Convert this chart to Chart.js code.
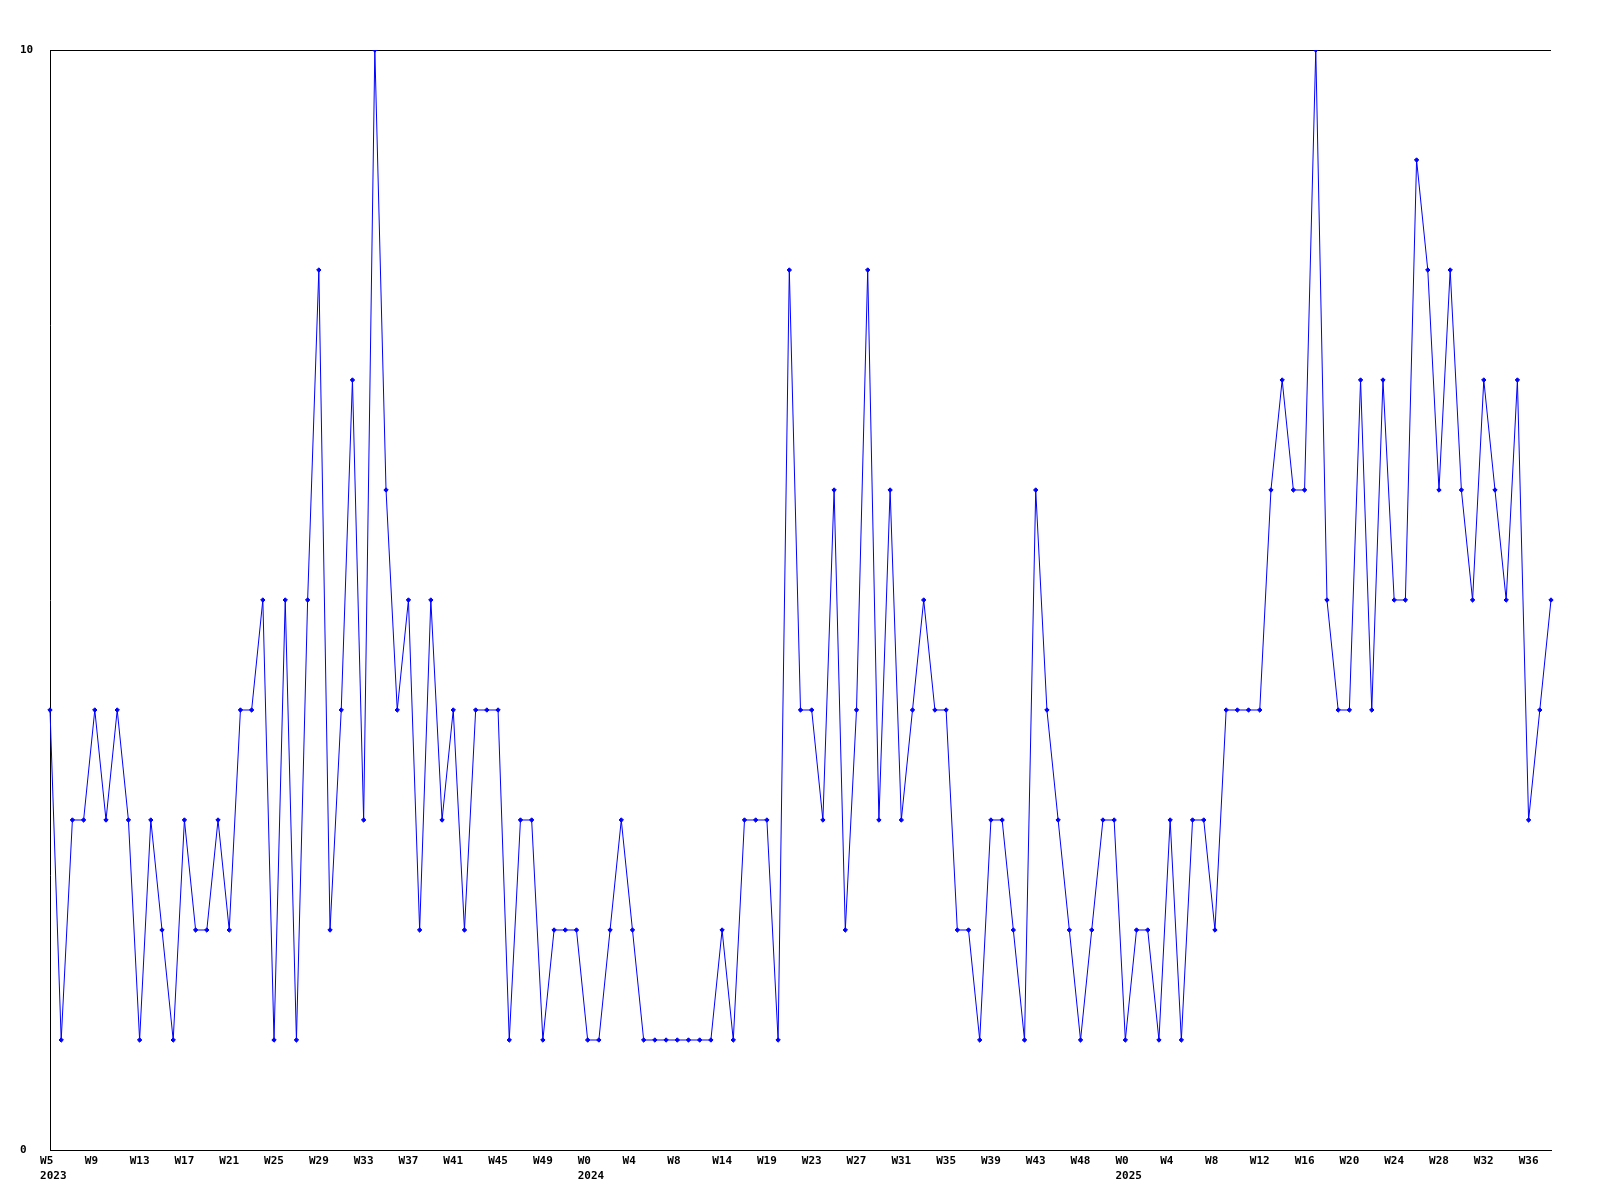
<!DOCTYPE html>
<html>
<head>
<meta charset="utf-8">
<script src="https://cdn.jsdelivr.net/npm/chart.js@4/dist/chart.umd.min.js"></script>
<style>
  html, body { margin: 0; padding: 0; background: #ffffff; }
  #wrap { width: 1600px; height: 1200px; }
</style>
</head>
<body>
<div id="wrap"><canvas id="c" width="1600" height="1200"></canvas></div>
<script>
// Weekly values, one per point
const values = [
  4,1,3,3,4,3,4,3,1,3,2,1,3,2,2,3,2,4,4,
  5,1,5,1,5,8,2,4,7,3,10,6,4,5,2,5,3,4,2,4,4,4,1,
  3,3,1,2,2,2,1,1,2,3,2,1,1,1,1,1,1,1,2,1,3,3,
  3,1,8,4,4,3,6,2,4,8,3,6,3,4,5,4,4,2,2,1,3,3,
  2,1,6,4,3,2,1,2,3,3,1,2,2,1,3,1,3,3,2,4,4,4,4,
  6,7,6,6,10,5,4,4,7,4,7,5,5,9,8,6,8,6,5,7,6,5,
  7,3,4,5
];

// Week tick labels, shown on every 4th point
const weekLabels = [
  "W5","W9","W13","W17","W21","W25","W29","W33","W37","W41","W45","W49",
  "W0","W4","W8","W14","W19","W23","W27","W31","W35","W39","W43","W48",
  "W0","W4","W8","W12","W16","W20","W24","W28","W32","W36"
];
const labelEvery = 4;

// Year labels and the week label each one sits under
const years = ["2023", "2024", "2025"];
const yearAtWeekLabel = [0, 12, 24];

// Y axis tick labels
const yTicks = [0, 10];

// Labels are laid out like fixed-width text that starts 1.5 characters left of the tick
const categories = values.map((v, i) => {
  if (i % labelEvery !== 0) return "";
  const k = i / labelEvery;
  if (k >= weekLabels.length) return "";
  const wk = weekLabels[k].padEnd(3, ' ');
  const yi = yearAtWeekLabel.indexOf(k);
  return yi >= 0 ? [wk, ' ' + years[yi]] : wk;
});

const tickFont = { family: "'DejaVu Sans Mono', monospace", size: 11, weight: 'bold', lineHeight: 15 / 11 };

new Chart(document.getElementById('c'), {
  type: 'line',
  data: {
    labels: categories,
    datasets: [{
      data: values,
      borderColor: '#0000ff',
      backgroundColor: '#0000ff',
      borderWidth: 1,
      tension: 0,
      fill: false,
      pointStyle: 'rectRot',
      pointRadius: 2.2,
      pointBorderWidth: 1,
      pointBackgroundColor: '#0000ff',
      pointBorderColor: '#0000ff'
    }]
  },
  options: {
    responsive: false,
    animation: false,
    devicePixelRatio: 1,
    layout: { padding: { left: 20, top: 50, right: 49, bottom: 0 } },
    plugins: { legend: { display: false }, tooltip: { enabled: false }, title: { display: false } },
    scales: {
      x: {
        type: 'category',
        offset: false,
        grid: { display: false, drawTicks: false },
        border: { display: true, color: '#000000', width: 1 },
        ticks: {
          autoSkip: false,
          maxRotation: 0,
          minRotation: 0,
          padding: 4,
          color: '#000000',
          font: tickFont
        },
        afterFit: (s) => { s.height = 50; }
      },
      y: {
        min: 0,
        max: 10,
        grid: { display: true, color: '#000000', lineWidth: 1, drawTicks: false },
        border: { display: true, color: '#000000', width: 1 },
        ticks: {
          stepSize: 10,
          crossAlign: 'far',
          padding: 0,
          color: '#000000',
          font: tickFont,
          callback: (v) => (yTicks.includes(v) ? String(v) : '')
        },
        afterFit: (s) => { s.width = 30; }
      }
    }
  },
  plugins: [{
    id: 'whiteBg',
    beforeDraw: (chart) => {
      const ctx = chart.ctx;
      ctx.save();
      ctx.fillStyle = '#ffffff';
      ctx.fillRect(0, 0, chart.width, chart.height);
      ctx.restore();
    }
  }]
});
</script>
</body>
</html>
